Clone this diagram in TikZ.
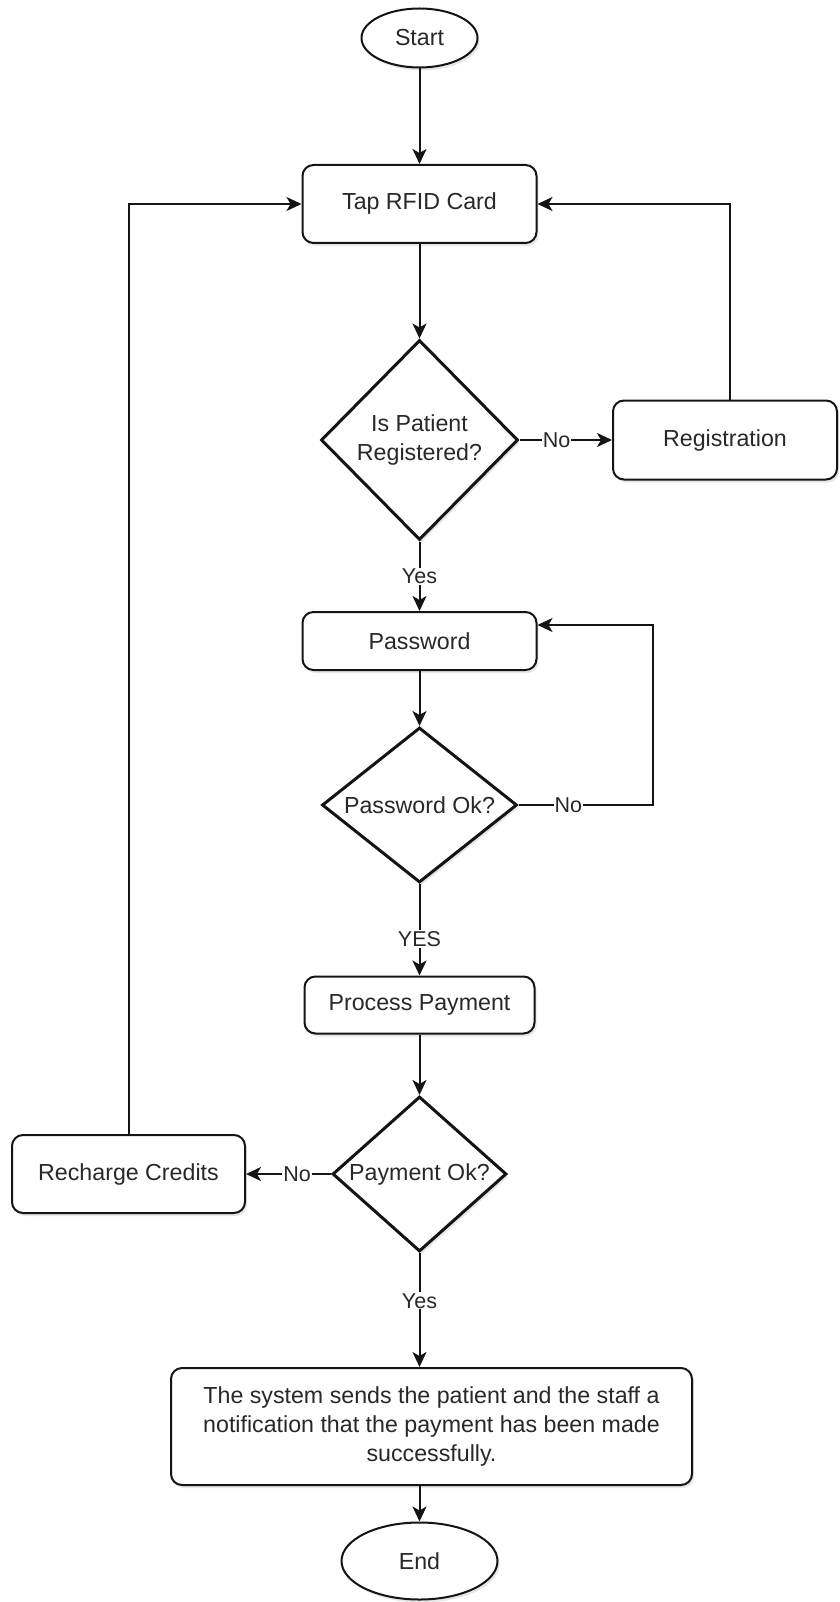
\documentclass[tikz,border=0pt]{standalone}
\usepackage{fontspec}
\setmainfont{Liberation Sans}
\usetikzlibrary{shapes.geometric,arrows.meta,shadows}

\begin{document}
\begin{tikzpicture}[x=1pt,y=-1pt,
        font=\fontsize{23.2}{28.7}\selectfont,
        box/.style={draw=linecol, line width=2pt, fill=white, rounded corners=11pt, text=textcol, align=center,
            minimum width=234pt, minimum height=78pt, inner sep=2pt,
            drop shadow={opacity=0.2, shadow xshift=2pt, shadow yshift=-3pt}},
        term/.style={draw=linecol, line width=2pt, fill=white, ellipse, text=textcol, inner sep=0pt,
            drop shadow={opacity=0.2, shadow xshift=2pt, shadow yshift=-3pt}},
        decision/.style={draw=linecol, line width=3pt, fill=white, diamond, text=textcol, align=center, inner sep=0pt,
            drop shadow={opacity=0.2, shadow xshift=2pt, shadow yshift=-3pt}},
        lbl/.style={fill=white, text=textcol, inner sep=1pt, font=\fontsize{21.5}{24}\selectfont},
        flow/.style={draw=linecol, line width=2pt, -{Stealth[length=15pt,width=14pt,inset=4pt]}}]
        % Define colors
        \definecolor{linecol}{RGB}{20,20,20}
        \definecolor{textcol}{RGB}{40,40,40}

        \useasboundingbox (0,0) rectangle (839,1602);

        % Main column
        \node[term, minimum width=116pt, minimum height=59pt] (start) at (419.5,38) {Start};
        \node[box] (tap) at (419.5,204) {Tap RFID Card};
        \node[decision, minimum width=197pt, minimum height=200pt, aspect=1] (regq) at (419.5,440) {Is Patient\\Registered?};
        \node[box, minimum width=224pt, minimum height=79pt] (reg) at (725,440) {Registration};
        \node[box, minimum height=58pt] (pw) at (419.5,641) {Password};
        \node[decision, minimum width=195pt, minimum height=155pt, aspect=1.26] (pwq) at (419.5,805) {Password Ok?};
        \node[box, minimum width=230pt, minimum height=57pt] (pay) at (419.5,1005) {Process Payment};
        \node[decision, minimum width=174pt, minimum height=155pt, aspect=1.12] (payq) at (419.5,1174) {Payment Ok?};
        \node[box, minimum width=233pt] (recharge) at (128.5,1174) {Recharge Credits};
        \node[box, minimum width=521pt, minimum height=117pt] (notify) at (431.5,1426.5)
            {The system sends the patient and the staff a\\notification that the payment has been made\\successfully.};
        \node[term, minimum width=156pt, minimum height=77pt] (end) at (419.5,1561) {End};

        % Connectors
        \draw[flow] (start) -- (tap);
        \draw[flow] (tap) -- (regq);
        \draw[flow] (regq) -- node[lbl, pos=0.4] {No} (reg);
        \draw[flow] ([xshift=5pt]reg.north) |- (tap.east);
        \draw[flow] (regq) -- node[lbl] {Yes} (pw);
        \draw[flow] (pw) -- (pwq);
        \coordinate (pwloop) at (653,805);
        \draw[flow] (pwq.east) -- node[lbl, pos=0.37] {No} (pwloop) |- ([yshift=16pt]pw.east);
        \draw[flow] (pwq) -- node[lbl, pos=0.6] {YES} (pay);
        \draw[flow] (pay) -- (payq);
        \draw[flow] (payq) -- node[lbl, pos=0.4] {No} (recharge);
        \draw[flow] (recharge.north) |- (tap.west);
        \draw[flow] (payq.south) -- node[lbl, pos=0.42] {Yes} (payq.south |- notify.north);
        \draw[flow] (end.north |- notify.south) -- (end.north);

    \end{tikzpicture}
\end{document}
